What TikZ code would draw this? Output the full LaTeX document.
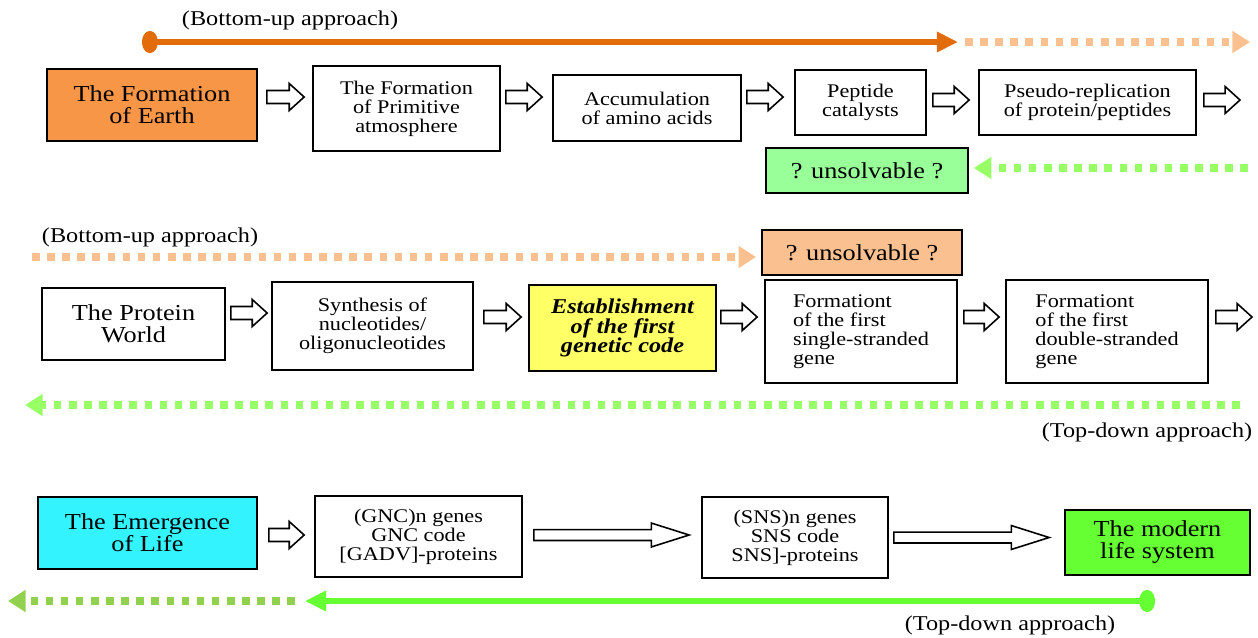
\documentclass[tikz,border=0pt]{standalone}
\usepackage{fontspec}
\setmainfont{Liberation Serif}[FakeStretch=1.15]
\usetikzlibrary{arrows.meta,calc}

\definecolor{orgline}{HTML}{E36C0A}
\definecolor{peach}{HTML}{FAC090}
\definecolor{orgbox}{HTML}{F79646}
\definecolor{palegreen}{HTML}{99FF99}
\definecolor{dotgreen}{HTML}{99FF66}
\definecolor{brightgreen}{HTML}{66FF33}
\definecolor{olive}{HTML}{92D050}
\definecolor{cyanbox}{HTML}{33F3FF}
\definecolor{yellowbox}{HTML}{FFFF66}

\tikzset{
  box/.style={draw, line width=1pt, inner sep=2pt, align=center, font=\fontsize{11}{10.8}\selectfont},
  big/.style={font=\fontsize{13}{12.5}\selectfont},
  fat/.style n args={3}{draw, line width=0.9pt, fill=white, line join=miter,
    to path={let \p1=(\tikztostart), \p2=(\tikztotarget) in
      (\x1,\y1+#1) -- (\x2-#3,\y1+#1) -- (\x2-#3,\y1+#2) -- (\x2,\y1)
      -- (\x2-#3,\y1-#2) -- (\x2-#3,\y1-#1) -- (\x1,\y1-#1) -- cycle}},
  shortfat/.style={fat={3.7pt}{7.7pt}{8.5pt}},
  longfat/.style={fat={3.1pt}{6.8pt}{21.5pt}},
  solidline/.style={line width=3.4pt},
  dotline/.style={line width=4pt, dash pattern=on 4.3pt off 4.3pt},
  label/.style={font=\fontsize{12}{12}\selectfont, inner sep=0pt}
}

\begin{document}
\begin{tikzpicture}[x=0.02cm, y=-0.02cm]
  \useasboundingbox (0,0) rectangle (1258,637);

  % first row
  \node[label] (bu1) at (290,20) {(Bottom-up approach)};
  \coordinate (bu1s) at (142,42); \coordinate (bu1e) at (958,42);
  \coordinate (bu1d) at (965,42); \coordinate (bu1f) at (1250,42);
  \draw[orgline, solidline, {Ellipse[length=9pt,width=12.5pt]}-{Triangle[length=12pt,width=11pt]}] (bu1s) -- (bu1e);
  \draw[peach, dotline, -{Triangle[length=10pt,width=12pt]}] (bu1d) -- (bu1f);

  \node[box, big, fill=orgbox, minimum width=4.2cm, minimum height=1.44cm] (earth) at (152,105) {The Formation\\of Earth};
  \node[box, minimum width=3.74cm, minimum height=1.7cm] (atmos) at (406.5,108.5) {The Formation\\of Primitive\\atmosphere};
  \node[box, minimum width=3.76cm, minimum height=1.32cm] (amino) at (647,108) {Accumulation\\of amino acids};
  \node[box, minimum width=2.62cm, minimum height=1.3cm] (peptide) at (860.5,102.5) {Peptide\\catalysts};
  \node[box, minimum width=4.34cm, minimum height=1.3cm] (pseudo) at (1087.5,102.5) {Pseudo-replication\\of protein/peptides};
  \coordinate (r1end) at (1240,100);
  \node[box, big, fill=palegreen, minimum width=4.04cm, minimum height=0.9cm] (unsolvA) at (867,170.5) {? unsolvable ?};

  \draw[shortfat] ([xshift=0.18cm,yshift=0.16cm]earth.east) to ([xshift=-0.16cm]atmos.west);
  \draw[shortfat] ([xshift=0.1cm,yshift=0.23cm]atmos.east) to ([xshift=-0.2cm]amino.west);
  \draw[shortfat] ([xshift=0.1cm,yshift=0.22cm]amino.east) to ([xshift=-0.22cm]peptide.west);
  \draw[shortfat] ([xshift=0.12cm,yshift=0.05cm]peptide.east) to ([xshift=-0.18cm]pseudo.west);
  \draw[shortfat] ([xshift=0.14cm,yshift=0.05cm]pseudo.east) to (r1end);

  \coordinate (td1s) at (1248,168);
  \draw[dotgreen, dotline, -{Triangle[length=10pt,width=12pt]}] (td1s) -- ([xshift=0.1cm]unsolvA.east |- td1s);

  % second row
  \node[label] (bu2) at (150,237) {(Bottom-up approach)};
  \coordinate (bu2s) at (32,257);
  \node[box, big, fill=peach, minimum width=4cm, minimum height=0.9cm] (unsolvB) at (862,252.5) {? unsolvable ?};
  \draw[peach, dotline, -{Triangle[length=10pt,width=12pt]}] (bu2s) -- ([xshift=-0.1cm]unsolvB.west |- bu2s);

  \node[box, big, minimum width=3.66cm, minimum height=1.44cm] (protein) at (133.5,324) {The Protein\\World};
  \node[box, minimum width=4.02cm, minimum height=1.76cm] (nucleo) at (372.5,326) {Synthesis of\\nucleotides/\\oligonucleotides};
  \node[box, fill=yellowbox, minimum width=3.74cm, minimum height=1.72cm, font=\fontsize{12}{11}\selectfont\bfseries\itshape] (gcode) at (622.5,328) {Establishment\\of the first\\genetic code};
  \node[box, align=left, minimum width=3.84cm, minimum height=2.06cm] (single) at (861,331.5) {Formationt\\of the first\\single-stranded\\gene};
  \node[box, align=left, minimum width=4.04cm, minimum height=2.06cm] (double) at (1107,331.5) {Formationt\\of the first\\double-stranded\\gene};
  \coordinate (r2end) at (1252,317);

  \draw[shortfat] ([xshift=0.1cm,yshift=0.22cm]protein.east) to ([xshift=-0.08cm]nucleo.west);
  \draw[shortfat] ([xshift=0.2cm,yshift=0.18cm]nucleo.east) to ([xshift=-0.14cm]gcode.west);
  \draw[shortfat] ([xshift=0.08cm,yshift=0.22cm]gcode.east) to ([xshift=-0.14cm]single.west);
  \draw[shortfat] ([xshift=0.12cm,yshift=0.29cm]single.east) to ([xshift=-0.12cm]double.west);
  \draw[shortfat] ([xshift=0.14cm,yshift=0.29cm]double.east) to (r2end);

  \coordinate (td2s) at (1240,405); \coordinate (td2e) at (25,405);
  \draw[dotgreen, dotline, -{Triangle[length=10pt,width=12pt]}] (td2s) -- (td2e);
  \node[label] (td2) at (1147,432) {(Top-down approach)};

  % third row
  \node[box, big, fill=cyanbox, minimum width=4.38cm, minimum height=1.44cm] (emerge) at (147.5,533) {The Emergence\\of Life};
  \node[box, minimum width=4.14cm, minimum height=1.62cm] (gnc) at (418.5,536.5) {(GNC)n genes\\GNC code\\{[GADV]-proteins}};
  \node[box, minimum width=3.72cm, minimum height=1.62cm] (sns) at (795,537.5) {(SNS)n genes\\SNS code\\SNS]-proteins};
  \node[box, big, fill=brightgreen, minimum width=3.7cm, minimum height=1.3cm] (modern) at (1157.5,542.5) {The modern\\life system};

  \draw[shortfat] ([xshift=0.22cm,yshift=-0.04cm]emerge.east) to ([xshift=-0.2cm]gnc.west);
  \draw[longfat] ([xshift=0.22cm,yshift=0.03cm]gnc.east) to ([xshift=-0.24cm]sns.west);
  \draw[longfat] ([xshift=0.1cm]sns.east) to ([xshift=-0.3cm]modern.west);

  \coordinate (td3s) at (1155,601); \coordinate (td3e) at (305,601);
  \coordinate (td3d) at (295,601); \coordinate (td3f) at (8,601);
  \draw[brightgreen, solidline, {Ellipse[length=9pt,width=12.5pt]}-{Triangle[length=12pt,width=11pt]}] (td3s) -- (td3e);
  \draw[olive, dotline, -{Triangle[length=10pt,width=12pt]}] (td3d) -- (td3f);
  \node[label] (td3) at (1010,625) {(Top-down approach)};
\end{tikzpicture}
\end{document}
